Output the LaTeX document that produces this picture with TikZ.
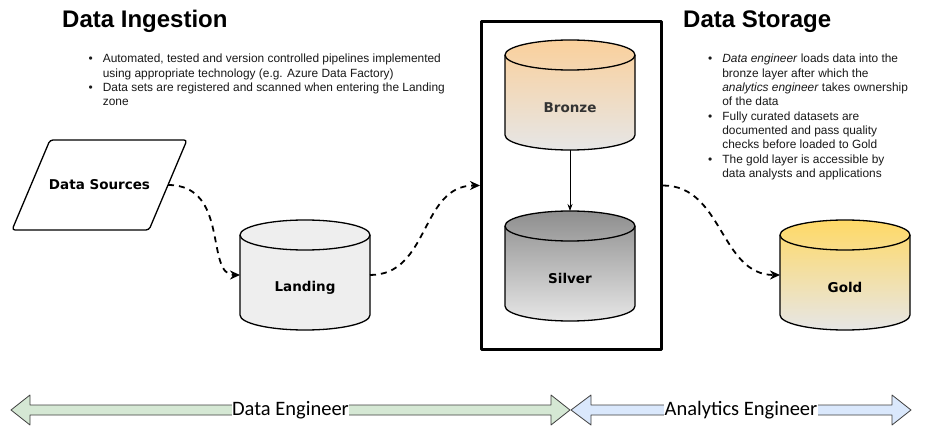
\documentclass[tikz,border=0pt]{standalone}
\usepackage{fontspec}
\setmainfont{Liberation Sans}
\newfontfamily\shapefont{DejaVu Sans}
\newfontfamily\rolefont{Carlito}
\usetikzlibrary{calc}
\usetikzlibrary{arrows.meta}
\pgfdeclarelayer{background}
\pgfsetlayers{background,main}
\definecolor{landgray}{HTML}{EEEEEE}
\definecolor{fadegray}{HTML}{E6E6E6}
\definecolor{bronzetop}{HTML}{FAD09C}
\definecolor{silvertop}{HTML}{8E8E8E}
\definecolor{goldtop}{HTML}{FFD966}
\definecolor{engreen}{HTML}{D5E8D4}
\definecolor{anblue}{HTML}{DAE8FC}

\begin{document}
\begin{tikzpicture}[x = 1pt, y = 1pt, line join = round,
  dbnode/.style = {minimum width = 130pt, minimum height = 110pt,
    inner sep = 0pt, outer sep = 0pt},
  dblabel/.style = {font = \shapefont\bfseries\fontsize{13.5pt}{16pt}\selectfont,
    yshift = -12.5pt},
  titletext/.style = {font = \bfseries\fontsize{24pt}{28pt}\selectfont,
    anchor = base west, inner sep = 0pt},
  notes/.style = {font = \fontsize{11.9pt}{14.3pt}\selectfont, text = black!90,
    anchor = base west, inner sep = 0pt},
  flowline/.style = {line width = 1.8pt, dash pattern = on 6pt off 5pt,
    -{Stealth[length = 10pt, width = 9pt]}},
  rolearrow/.style = {draw = black!75, line width = 0.8pt},
  rolelabel/.style = {font = \rolefont\fontsize{20.5pt}{24pt}\selectfont,
    fill = white, inner xsep = 0.5pt, inner ysep = 1pt}]

  \begin{pgfonlayer}{background}
    \fill[white] (0, 0) rectangle (930, 440);
  \end{pgfonlayer}
  \useasboundingbox (0, 0) rectangle (930, 440);

  % headings and notes
  \node[titletext] (ingtitle) at (62, 412) {Data Ingestion};
  \node[titletext] (stotitle) at (683, 412) {Data Storage};

  \node[notes] (ingnotes) at (88.5, 377) {%
    \begin{tabular}[t]{@{}l@{\hspace{10pt}}l@{}}
      \textbullet & Automated, tested and version controlled pipelines implemented\\
      & using appropriate technology (e.g. Azure Data Factory)\\
      \textbullet & Data sets are registered and scanned when entering the Landing\\
      & zone
    \end{tabular}};

  \node[notes] (stonotes) at (708, 377) {%
    \begin{tabular}[t]{@{}l@{\hspace{10pt}}l@{}}
      \textbullet & \emph{Data engineer} loads data into the\\
      & bronze layer after which the\\
      & \emph{analytics engineer} takes ownership\\
      & of the data\\
      \textbullet & Fully curated datasets are\\
      & documented and pass quality\\
      & checks before loaded to Gold\\
      \textbullet & The gold layer is accessible by\\
      & data analysts and applications
    \end{tabular}};

  % sources
  \node[font = \shapefont\bfseries\fontsize{13.5pt}{16pt}\selectfont,
    minimum width = 137pt, minimum height = 90pt, inner sep = 0pt,
    outer sep = 0pt] (src) at (99.5, 255) {Data Sources};
  \draw[line width = 1.3pt, rounded corners = 3pt]
    ($(src.south west) + (-19, 0)$) -- ($(src.north west) + (19, 0)$)
    -- ($(src.north east) + (19, 0)$) -- ($(src.south east) + (-19, 0)$) -- cycle;

  % layers
  \node[dbnode, label = {[dblabel]center:Landing}] (land) at (305, 165) {};
  \node[dbnode, label = {[dblabel, text = black!80]center:Bronze}] (bronze) at (570, 345) {};
  \node[dbnode, label = {[dblabel]center:Silver}] (silver) at (570, 174) {};
  \node[dbnode, label = {[dblabel]center:Gold}] (gold) at (845, 165) {};

  \begin{pgfonlayer}{background}
    \foreach \db/\ctop/\cbot in {land/landgray/landgray, bronze/bronzetop/fadegray,
      silver/silvertop/fadegray, gold/goldtop/fadegray} {
      \draw[line width = 1.3pt, top color = \ctop, bottom color = \cbot]
        ($(\db.north west) + (0, -15)$) -- ($(\db.south west) + (0, 15)$)
        arc[start angle = 180, end angle = 360, x radius = 65pt, y radius = 15pt]
        -- ($(\db.north east) + (0, -15)$)
        arc[start angle = 0, end angle = 180, x radius = 65pt, y radius = 15pt]
        -- cycle;
      \draw[line width = 1.3pt] ($(\db.north west) + (0, -15)$)
        arc[start angle = 180, end angle = 360, x radius = 65pt, y radius = 15pt];
    }
  \end{pgfonlayer}

  \node[draw, line width = 3pt, minimum width = 180pt, minimum height = 328pt]
    (store) at (571.5, 254.5) {};

  % connectors
  \draw[flowline] (src.east) .. controls +(62, 0) and +(-35, 0) .. (land.west);
  \draw[flowline] (land.east) .. controls +(60, 0) and +(-60, 0) .. (store.west);
  \draw[flowline] (store.east) .. controls +(60, 0) and +(-60, 0) .. (gold.west);
  \draw[line width = 0.8pt, -{Stealth[length = 7pt, width = 5pt]}]
    (bronze.south) -- (silver.north);

  % roles
  \draw[rolearrow, fill = engreen] (11, 30) -- (30, 45) -- (30, 35) -- (551, 35)
    -- (551, 45) -- (570, 30) -- (551, 15) -- (551, 25) -- (30, 25) -- (30, 15)
    -- cycle;
  \draw[rolearrow, fill = anblue] (571, 30) -- (591, 45) -- (591, 35) -- (892, 35)
    -- (892, 45) -- (911, 30) -- (892, 15) -- (892, 25) -- (591, 25) -- (591, 15)
    -- cycle;
  \node[rolelabel] (derole) at (290.5, 30) {Data Engineer};
  \node[rolelabel] (aerole) at (741, 30) {Analytics Engineer};
\end{tikzpicture}
\end{document}
